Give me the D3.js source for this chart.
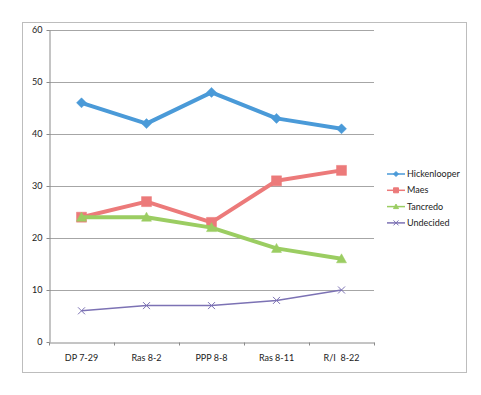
<!DOCTYPE html>
<html>
<head>
<meta charset="utf-8">
<script src="https://cdn.jsdelivr.net/npm/d3@7"></script>
<style>
    body { margin: 0; background: #fff; }
    svg { display: block; }
    .tick text { font-family: Lato, "Open Sans", sans-serif; font-size: 9px; fill: #222; white-space: pre; }
</style>
</head>
<body>
<div id="chart"></div>
<script>
const categories = ["DP 7-29", "Ras 8-2", "PPP 8-8", "Ras 8-11", "R/I  8-22"];
const hickenlooper = [46, 42, 48, 43, 41];
const maes = [24, 27, 23, 31, 33];
const tancredo = [24, 24, 22, 18, 16];
const undecided = [6, 7, 7, 8, 10];
const yTicks = [0, 10, 20, 30, 40, 50, 60];

const series = [
    {name: "Hickenlooper", values: hickenlooper, color: "#4a9ad8", width: 4, marker: "diamond"},
    {name: "Maes", values: maes, color: "#ec7a7a", width: 4, marker: "square"},
    {name: "Tancredo", values: tancredo, color: "#9bcd62", width: 4, marker: "triangle"},
    {name: "Undecided", values: undecided, color: "#7c72b4", width: 1.5, marker: "x"}
];

const W = 481, H = 395;
const margin = {top: 30, left: 49};
const width = 325, height = 312;

let svg = d3.select("#chart").append("svg")
    .attr("width", W)
    .attr("height", H);

// outer frame
svg.append("rect")
    .attr("x", 22.5).attr("y", 22.5)
    .attr("width", 444).attr("height", 350)
    .attr("fill", "none")
    .attr("stroke", "#bdbdbd")
    .attr("stroke-width", 1);

let g = svg.append("g")
    .attr("transform", "translate(" + margin.left + "," + margin.top + ")");

let xSc = d3.scaleBand().domain(categories).range([0, width]);
let ySc = d3.scaleLinear().domain([0, 60]).range([height, 0]);

// gridlines
g.append("g")
    .selectAll("line")
    .data(yTicks.slice(1))
    .join("line")
    .attr("x1", 0).attr("x2", width)
    .attr("y1", d => ySc(d) + 0.5).attr("y2", d => ySc(d) + 0.5)
    .attr("stroke", "#a6a6a6")
    .attr("stroke-width", 1);

// y axis
let yAxis = g.append("g")
    .attr("transform", "translate(0.5,0)")
    .call(d3.axisLeft(ySc).tickValues(yTicks).tickSize(3).tickSizeOuter(0).tickPadding(4));
yAxis.select(".domain").attr("stroke", "#8a8a8a");
yAxis.selectAll(".tick line").attr("stroke", "#8a8a8a");

// x axis
let xAxis = g.append("g")
    .attr("transform", "translate(0," + (height + 0.5) + ")")
    .call(d3.axisBottom(xSc).tickSize(0).tickPadding(12));
xAxis.select(".domain").attr("stroke", "#8a8a8a");
// category boundary ticks
xAxis.selectAll(".bound")
    .data(categories.map((c, i) => i * xSc.step()).concat([width]))
    .join("line")
    .attr("class", "bound")
    .attr("x1", d => d + 0.5).attr("x2", d => d + 0.5)
    .attr("y1", 0).attr("y2", 3)
    .attr("stroke", "#8a8a8a");

function markerPath(type, size) {
    let s = size / 2;
    if (type === "diamond") return `M0,${-s}L${s},0L0,${s}L${-s},0Z`;
    if (type === "square") return `M${-s},${-s}H${s}V${s}H${-s}Z`;
    if (type === "triangle") return `M0,${-s}L${s},${s * 0.8}L${-s},${s * 0.8}Z`;
    return `M${-s},${-s}L${s},${s}M${-s},${s}L${s},${-s}`;
}

let line = d3.line()
    .x((d, i) => xSc(categories[i]) + xSc.bandwidth() / 2)
    .y(d => ySc(d));

for (let s of series) {
    g.append("path")
        .datum(s.values)
        .attr("d", line)
        .attr("fill", "none")
        .attr("stroke", s.color)
        .attr("stroke-width", s.width)
        .attr("stroke-linejoin", "round");
    g.append("g")
        .selectAll("path")
        .data(s.values)
        .join("path")
        .attr("transform", (d, i) => "translate(" + (xSc(categories[i]) + xSc.bandwidth() / 2) + "," + ySc(d) + ")")
        .attr("d", markerPath(s.marker, s.marker === "x" ? 7 : 10))
        .attr("fill", s.marker === "x" ? "none" : s.color)
        .attr("stroke", s.color)
        .attr("stroke-width", s.marker === "x" ? 1 : 0.5);
}

// legend
let legend = svg.append("g").attr("transform", "translate(387,174)");
series.forEach((s, i) => {
    let row = legend.append("g").attr("transform", "translate(0," + (i * 16.3) + ")");
    row.append("line")
        .attr("x1", 0).attr("x2", 18)
        .attr("stroke", s.color)
        .attr("stroke-width", 1.5);
    row.append("path")
        .attr("transform", "translate(9,0)")
        .attr("d", markerPath(s.marker, 5))
        .attr("fill", s.marker === "x" ? "none" : s.color)
        .attr("stroke", s.color)
        .attr("stroke-width", 1);
    row.append("text")
        .attr("x", 20).attr("y", 0)
        .attr("dy", "0.35em")
        .style("font-family", "Lato, 'Open Sans', sans-serif")
        .style("font-size", "9px")
        .attr("fill", "#222")
        .text(s.name);
});
</script>
</body>
</html>
